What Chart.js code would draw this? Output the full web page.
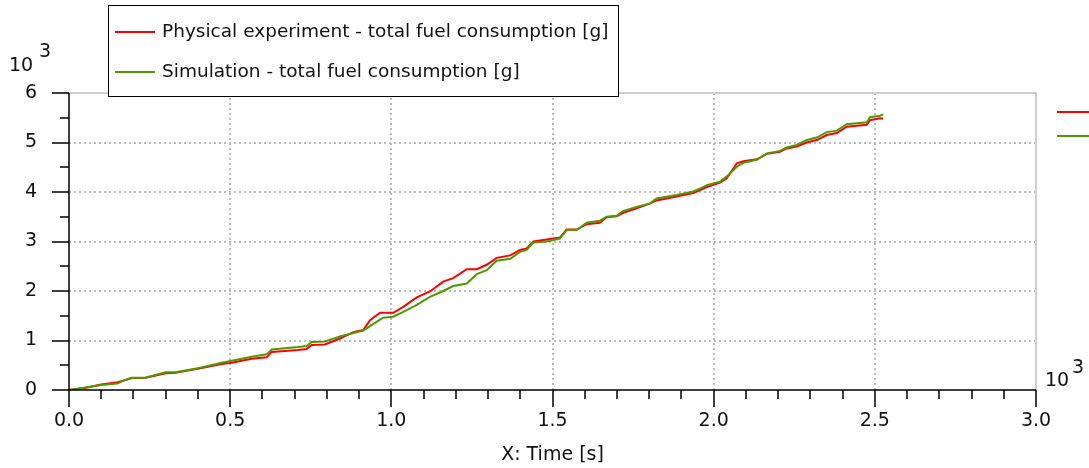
<!DOCTYPE html>
<html>
<head>
<meta charset="utf-8">
<script src="https://cdn.jsdelivr.net/npm/chart.js@4/dist/chart.umd.min.js"></script>
<style>
  body { margin: 0; background: #fff; }
</style>
</head>
<body>
<canvas id="fuel-canvas" width="1089" height="468"></canvas>
<script>
// time [s]
var time = [0, 0.05, 0.10, 0.15, 0.18, 0.195, 0.235, 0.30, 0.33, 0.40, 0.474, 0.505, 0.567, 0.613, 0.629,
  0.711, 0.737, 0.753, 0.794, 0.841, 0.882, 0.913, 0.934, 0.965, 0.975, 1.006, 1.037, 1.079, 1.12, 1.161,
  1.192, 1.234, 1.265, 1.296, 1.327, 1.369, 1.399, 1.42, 1.441, 1.482, 1.523, 1.544, 1.575, 1.606, 1.647,
  1.668, 1.699, 1.72, 1.761, 1.803, 1.823, 1.885, 1.937, 1.958, 1.979, 2.02, 2.04, 2.072, 2.092, 2.134,
  2.165, 2.206, 2.227, 2.258, 2.289, 2.32, 2.351, 2.382, 2.413, 2.444, 2.475, 2.485, 2.516, 2.526];

// total fuel consumption [g] x 10^3
var physical = [0, 0.04, 0.11, 0.155, 0.21, 0.24, 0.24, 0.34, 0.35, 0.43, 0.525, 0.55, 0.63, 0.66, 0.77,
  0.81, 0.83, 0.91, 0.92, 1.04, 1.17, 1.21, 1.41, 1.56, 1.56, 1.56, 1.68, 1.87, 1.99, 2.19,
  2.26, 2.44, 2.44, 2.53, 2.67, 2.72, 2.83, 2.86, 3.00, 3.04, 3.08, 3.24, 3.24, 3.35, 3.38,
  3.49, 3.51, 3.58, 3.67, 3.77, 3.83, 3.91, 3.98, 4.04, 4.10, 4.19, 4.27, 4.58, 4.62, 4.66,
  4.77, 4.81, 4.88, 4.92, 5.00, 5.05, 5.15, 5.19, 5.32, 5.34, 5.36, 5.45, 5.49, 5.48];

var simulation = [0, 0.05, 0.10, 0.13, 0.22, 0.25, 0.25, 0.36, 0.36, 0.44, 0.55, 0.59, 0.67, 0.72, 0.82,
  0.87, 0.89, 0.97, 0.98, 1.08, 1.15, 1.20, 1.29, 1.42, 1.46, 1.48, 1.58, 1.72, 1.88, 2.00,
  2.10, 2.15, 2.34, 2.42, 2.61, 2.65, 2.79, 2.83, 2.98, 3.00, 3.06, 3.23, 3.23, 3.38, 3.42,
  3.50, 3.52, 3.62, 3.70, 3.77, 3.87, 3.94, 4.01, 4.07, 4.14, 4.21, 4.31, 4.51, 4.59, 4.65,
  4.78, 4.83, 4.90, 4.95, 5.05, 5.10, 5.21, 5.24, 5.37, 5.39, 5.41, 5.51, 5.54, 5.57];

var seriesNames = ['Physical experiment - total fuel consumption [g]', 'Simulation - total fuel consumption [g]'];
var RED = '#ff0000';
var GREEN = '#4d9900';
var FONT = '"DejaVu Sans", Verdana, sans-serif';
var TXT = '#111';

var toPoints = (vals) => time.map((t, i) => ({x: t, y: vals[i]}));

// axes, minor ticks, border, legend box, 10^3 labels
var decorPlugin = {
    id: 'decor',
    afterDraw: function(chart) {
        var ctx = chart.ctx;
        var a = chart.chartArea;
        var xs = chart.scales.x, ys = chart.scales.y;
        ctx.save();

        // grey frame top / right
        ctx.strokeStyle = '#d0d0d0';
        ctx.lineWidth = 2;
        ctx.beginPath();
        ctx.moveTo(a.left, a.top);
        ctx.lineTo(a.right, a.top);
        ctx.lineTo(a.right, a.bottom);
        ctx.stroke();

        // axes
        ctx.strokeStyle = '#000';
        ctx.lineWidth = 1.5;
        ctx.beginPath();
        ctx.moveTo(a.left, a.top);
        ctx.lineTo(a.left, a.bottom);
        ctx.moveTo(a.left - 17, a.bottom);
        ctx.lineTo(a.right, a.bottom);
        // y ticks
        for (var v = 0; v <= 6; v += 0.5) {
            var py = Math.round(ys.getPixelForValue(v));
            var len = (v % 1 === 0) ? 17 : 9;
            ctx.moveTo(a.left - len, py);
            ctx.lineTo(a.left, py);
        }
        // x ticks
        for (var k = 0; k <= 30; k++) {
            var px = Math.round(xs.getPixelForValue(k / 10));
            var l = (k % 5 === 0) ? 17 : 9;
            ctx.moveTo(px, a.bottom);
            ctx.lineTo(px, a.bottom + l);
        }
        ctx.stroke();

        // 10^3 multipliers
        ctx.fillStyle = TXT;
        ctx.textBaseline = 'alphabetic';
        ctx.textAlign = 'left';
        ctx.font = '19px ' + FONT;
        ctx.fillText('10', 9, 71);
        ctx.fillText('3', 39, 57);
        ctx.fillText('10', 1045, 386);
        ctx.fillText('3', 1072, 373);

        // right side series marks
        ctx.lineWidth = 2;
        ctx.strokeStyle = RED;
        ctx.beginPath(); ctx.moveTo(1057, 112); ctx.lineTo(1089, 112); ctx.stroke();
        ctx.strokeStyle = GREEN;
        ctx.beginPath(); ctx.moveTo(1057, 136); ctx.lineTo(1089, 136); ctx.stroke();

        // legend box
        ctx.fillStyle = '#fff';
        ctx.fillRect(108, 5, 511, 92);
        ctx.strokeStyle = '#000';
        ctx.lineWidth = 1;
        ctx.strokeRect(108.5, 5.5, 510, 91);
        var rows = [[RED, 32], [GREEN, 72]];
        ctx.font = '18.5px ' + FONT;
        ctx.textBaseline = 'middle';
        rows.forEach(function(r, i) {
            ctx.strokeStyle = r[0];
            ctx.lineWidth = 2;
            ctx.beginPath(); ctx.moveTo(115, r[1]); ctx.lineTo(155, r[1]); ctx.stroke();
            ctx.fillStyle = TXT;
            ctx.fillText(seriesNames[i], 162, r[1]);
        });
        ctx.restore();
    }
};

var dottedGrid = (edgeA, edgeB) => ({
    drawTicks: false,
    color: (c) => (c.tick && (c.tick.value === edgeA || c.tick.value === edgeB)) ? 'rgba(0,0,0,0)' : '#bdbdbd',
    lineWidth: 2
});

var configFuel = {
    type: 'line',
    data: {
        datasets: [{
            label: seriesNames[0],
            data: toPoints(physical),
            borderColor: RED,
            borderWidth: 2,
            pointRadius: 0,
            tension: 0,
            order: 1
        }, {
            label: seriesNames[1],
            data: toPoints(simulation),
            borderColor: GREEN,
            borderWidth: 2,
            pointRadius: 0,
            tension: 0,
            order: 0
        }]
    },
    options: {
        responsive: false,
        animation: false,
        layout: { padding: { top: 93, right: 53, left: 0, bottom: 0 } },
        plugins: { legend: { display: false }, tooltip: { enabled: false } },
        scales: {
            x: {
                type: 'linear',
                min: 0, max: 3,
                border: { display: false, dash: [2, 3] },
                grid: dottedGrid(0, 3),
                ticks: {
                    stepSize: 0.5,
                    padding: 20,
                    color: TXT,
                    font: { family: FONT, size: 19 },
                    maxRotation: 0,
                    callback: (v) => v.toFixed(1)
                },
                title: {
                    display: true,
                    text: 'X: Time [s]',
                    color: TXT,
                    font: { family: FONT, size: 19 },
                    padding: { top: 0, bottom: 2 }
                },
                afterFit: (s) => { s.height = 78; }
            },
            y: {
                min: 0, max: 6,
                border: { display: false, dash: [2, 3] },
                grid: dottedGrid(0, 6),
                ticks: {
                    stepSize: 1,
                    padding: 32,
                    color: TXT,
                    font: { family: FONT, size: 19 }
                },
                afterFit: (s) => { s.width = 69; }
            }
        }
    },
    plugins: [decorPlugin]
};

window.fuel = new Chart('fuel-canvas', configFuel);
</script>
</body>
</html>
